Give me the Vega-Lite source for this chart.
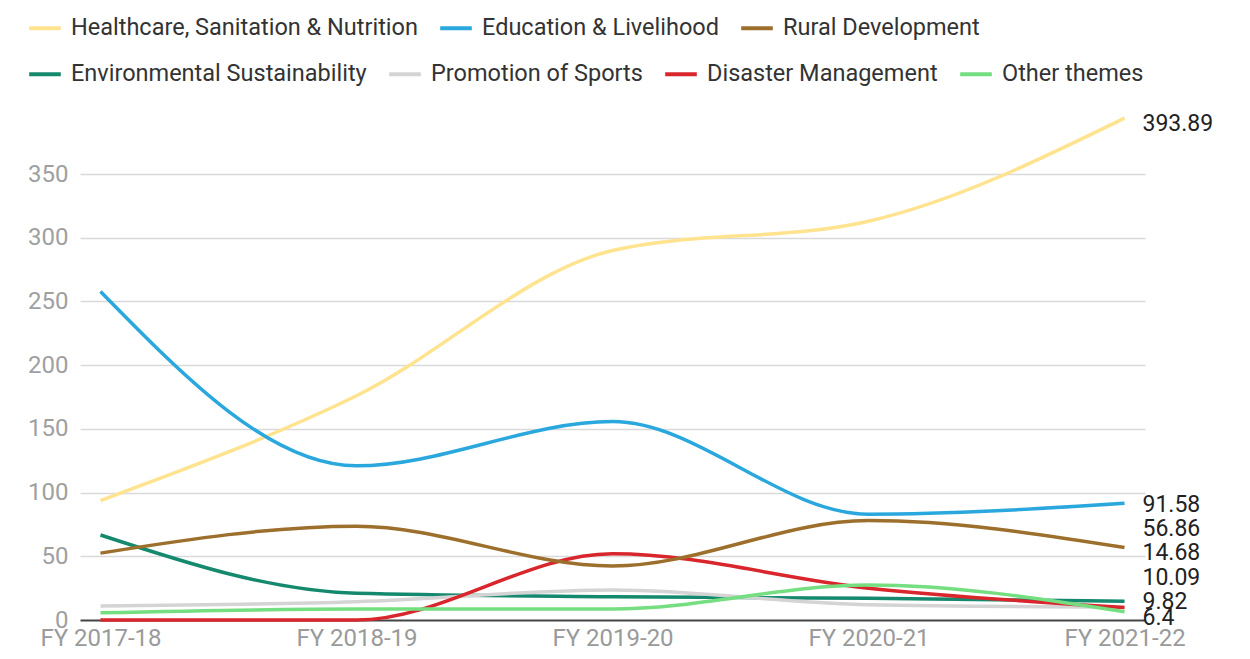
{
  "$schema": "https://vega.github.io/schema/vega-lite/v6.json",
  "width": 1065,
  "height": 502,
  "autosize": {"type": "none"},
  "padding": {"left": 80, "top": 118, "right": 105, "bottom": 39},
  "background": "white",
  "config": {
    "font": "Roboto",
    "view": {"stroke": null},
    "legend": {
      "title": null,
      "symbolType": "stroke",
      "symbolStrokeWidth": 4,
      "symbolSize": 1000,
      "labelFont": "Roboto",
      "labelFontSize": 23.5,
      "labelColor": "#333333",
      "labelOffset": 8,
      "columnPadding": 14,
      "padding": 0,
      "labelLimit": 600
    }
  },
  "datasets": {
    "series": [
      {"theme": "Healthcare, Sanitation & Nutrition", "year": "FY 2017-18", "value": 93.7},
      {"theme": "Healthcare, Sanitation & Nutrition", "year": "FY 2018-19", "value": 176},
      {"theme": "Healthcare, Sanitation & Nutrition", "year": "FY 2019-20", "value": 290},
      {"theme": "Healthcare, Sanitation & Nutrition", "year": "FY 2020-21", "value": 313},
      {"theme": "Healthcare, Sanitation & Nutrition", "year": "FY 2021-22", "value": 393.89},
      {"theme": "Education & Livelihood", "year": "FY 2017-18", "value": 257.9},
      {"theme": "Education & Livelihood", "year": "FY 2018-19", "value": 121},
      {"theme": "Education & Livelihood", "year": "FY 2019-20", "value": 155.7},
      {"theme": "Education & Livelihood", "year": "FY 2020-21", "value": 83},
      {"theme": "Education & Livelihood", "year": "FY 2021-22", "value": 91.58},
      {"theme": "Rural Development", "year": "FY 2017-18", "value": 52.5},
      {"theme": "Rural Development", "year": "FY 2018-19", "value": 73.6},
      {"theme": "Rural Development", "year": "FY 2019-20", "value": 42.4},
      {"theme": "Rural Development", "year": "FY 2020-21", "value": 78},
      {"theme": "Rural Development", "year": "FY 2021-22", "value": 56.86},
      {"theme": "Environmental Sustainability", "year": "FY 2017-18", "value": 66.7},
      {"theme": "Environmental Sustainability", "year": "FY 2018-19", "value": 21},
      {"theme": "Environmental Sustainability", "year": "FY 2019-20", "value": 18.3},
      {"theme": "Environmental Sustainability", "year": "FY 2020-21", "value": 17},
      {"theme": "Environmental Sustainability", "year": "FY 2021-22", "value": 14.68},
      {"theme": "Promotion of Sports", "year": "FY 2017-18", "value": 11},
      {"theme": "Promotion of Sports", "year": "FY 2018-19", "value": 14.4},
      {"theme": "Promotion of Sports", "year": "FY 2019-20", "value": 23.5},
      {"theme": "Promotion of Sports", "year": "FY 2020-21", "value": 12},
      {"theme": "Promotion of Sports", "year": "FY 2021-22", "value": 10.09},
      {"theme": "Disaster Management", "year": "FY 2017-18", "value": 0},
      {"theme": "Disaster Management", "year": "FY 2018-19", "value": 0},
      {"theme": "Disaster Management", "year": "FY 2019-20", "value": 52},
      {"theme": "Disaster Management", "year": "FY 2020-21", "value": 25},
      {"theme": "Disaster Management", "year": "FY 2021-22", "value": 9.82},
      {"theme": "Other themes", "year": "FY 2017-18", "value": 5.7},
      {"theme": "Other themes", "year": "FY 2018-19", "value": 8.6},
      {"theme": "Other themes", "year": "FY 2019-20", "value": 8.6},
      {"theme": "Other themes", "year": "FY 2020-21", "value": 27.5},
      {"theme": "Other themes", "year": "FY 2021-22", "value": 6.4}
    ]
  },
  "data": {"name": "series"},
  "encoding": {
    "x": {
      "field": "year",
      "type": "ordinal",
      "sort": null,
      "scale": {"type": "point", "padding": 0.08},
      "axis": {
        "title": null,
        "labelAngle": 0,
        "labelFont": "Roboto",
        "labelFontSize": 24,
        "labelColor": "#9a9a9a",
        "labelPadding": 6,
        "ticks": false,
        "domain": false,
        "grid": false
      }
    },
    "y": {
      "field": "value",
      "type": "quantitative",
      "scale": {"domain": [0, 394], "nice": false},
      "axis": {
        "title": null,
        "values": [0, 50, 100, 150, 200, 250, 300, 350],
        "labelFont": "Roboto",
        "labelFontSize": 24,
        "labelColor": "#a0a0a0",
        "labelPadding": 12,
        "ticks": false,
        "domain": false,
        "grid": true,
        "gridColor": {"condition": {"test": "datum.value === 0", "value": "#444444"}, "value": "#d9d9d9"},
        "gridWidth": {"condition": {"test": "datum.value === 0", "value": 2}, "value": 1.5}
      }
    }
  },
  "layer": [
    {
      "transform": [{"filter": {"field": "theme", "oneOf": ["Environmental Sustainability", "Promotion of Sports", "Disaster Management", "Other themes"]}}],
      "mark": {"type": "line", "interpolate": "monotone", "strokeWidth": 3.5},
      "encoding": {
        "color": {
          "field": "theme",
          "type": "nominal",
          "sort": null,
          "scale": {
            "domain": ["Environmental Sustainability", "Promotion of Sports", "Disaster Management", "Other themes"],
            "range": ["#14896d", "#d4d4d4", "#d8262c", "#74de80"]
          },
          "legend": {"orient": "none", "direction": "horizontal", "legendX": -53, "legendY": -62}
        }
      }
    },
    {
      "transform": [{"filter": {"field": "theme", "oneOf": ["Healthcare, Sanitation & Nutrition", "Education & Livelihood", "Rural Development"]}}],
      "mark": {"type": "line", "interpolate": "monotone", "strokeWidth": 3.5},
      "encoding": {
        "color": {
          "field": "theme",
          "type": "nominal",
          "sort": null,
          "scale": {
            "domain": ["Healthcare, Sanitation & Nutrition", "Education & Livelihood", "Rural Development"],
            "range": ["#ffe38f", "#2aa8de", "#9d6f2c"]
          },
          "legend": {"orient": "none", "direction": "horizontal", "legendX": -53, "legendY": -108}
        }
      }
    },
    {
      "transform": [
        {"filter": {"field": "year", "equal": "FY 2021-22"}},
        {"window": [{"op": "row_number", "as": "slot"}], "sort": [{"field": "value", "order": "ascending"}]},
        {"calculate": "max(datum.value, (datum.slot - 1) * 19)", "as": "labelAt"}
      ],
      "mark": {"type": "text", "align": "left", "baseline": "middle", "dx": 18, "dy": 6, "font": "Roboto", "fontSize": 23, "color": "#222222"},
      "encoding": {
        "y": {"field": "labelAt", "type": "quantitative"},
        "text": {"field": "value", "type": "nominal"}
      }
    }
  ],
  "resolve": {"scale": {"color": "independent"}}
}
